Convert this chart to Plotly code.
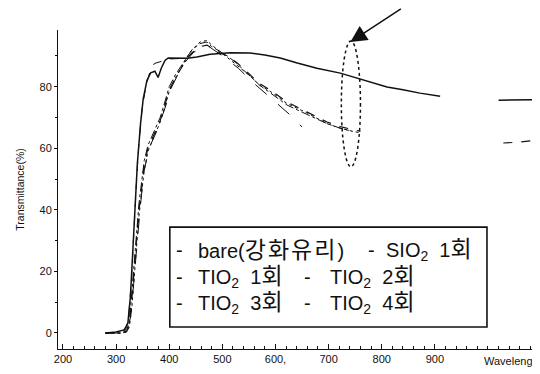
import plotly.graph_objects as go

# ---- data ----
series_names = ["bare(강화유리)", "SIO<sub>2</sub> 1회", "TIO<sub>2</sub> 1회",
                "TIO<sub>2</sub> 2회", "TIO<sub>2</sub> 3회", "TIO<sub>2</sub> 4회"]

wl_bare = [280, 300, 315, 322, 327, 331, 335, 340, 346, 351, 358, 365, 373, 379, 385, 392,
           398, 420, 434, 452, 477, 515, 552, 580, 609, 641, 678, 722, 765, 810, 840, 872,
           910, 960, 1020, 1095]
t_bare = [0, 0.3, 1, 3, 12, 25, 40, 55, 68, 76, 82, 84.5, 85, 83, 86, 88.5,
          89.3, 89.2, 89.2, 89.6, 90.5, 91, 90.9, 90.3, 89.3, 87.7, 86, 84.4, 82.1, 79.9, 79, 77.9,
          76.9, None, 75.6, 75.8]

wl_sio2 = [280, 300, 318, 324, 329, 333, 338, 343, 349, 356, 364, 372, 380, 390, 400, 430]
t_sio2 = [0, 0.2, 1, 6, 18, 32, 48, 62, 73, 80, 85, 87.5, 88, 88.5, 89, 89.2]

wl_tio2 = [280, 310, 320, 325, 330, 334, 338, 343, 348, 353, 360, 368, 376, 383, 390, 400,
           412, 423, 435, 443, 458, 471, 480, 495, 509, 528, 539, 552, 570, 590, 622, 659,
           697, 722, 745, 760, 900, 1029, 1060, 1093]
t_tio2_1 = [0, 0, 0.5, 3, 12, 20, 30, 40, 47, 55, 60, 63, 66, 69, 73, 79,
            83, 86, 89.5, 91, 93, 93.5, 92.5, 91, 90, 87.7, 86, 84, 81, 78.9, 75, 71.8,
            68.5, 67, 66, 65.5, None, 61.7, 62, 62.7]
t_tio2_2 = [0, 0, 0.3, 2, 9, 17, 27, 38, 46, 53, 59, 62.5, 65.5, 68.5, 72.5, 78.5,
            83, 86.5, 90, 92, 94.5, 95, 93.5, 91.5, 89.5, 87, 85.5, 83.5, 80.5, 78.5, 74.5, 71.5,
            68, 66.5, 65.5, 65, None, None, None, None]
t_tio2_3 = [0, 0, 0.8, 4, 14, 23, 33, 42, 49, 56, 61, 64, 67, 70, 74, 80,
            84, 87, 90, 92, 94, 94.5, 93, 91.5, 90, 87.5, 85.5, 83.5, 80.5, 78, 74, 71,
            68, 66.5, 65.5, None, None, None, None, None]

wl_tio2_4 = [280, 310, 322, 328, 333, 338, 345, 352, 362, 375, 390, 405, 425, 445, 462, 475,
             500, 530, 560, 600, 633, 650]
t_tio2_4 = [0, 0, 1, 6, 16, 27, 40, 52, 60, 65, 72, 80, 87, 91, 93, 93,
            90, 86, 81, 75, 70, 66.9]

x_tickvals = [200, 300, 400, 500, 600, 700, 800, 900]
x_ticktext = ["200", "300", "400", "500", "600,", "700", "800", "900"]
y_tickvals = [0, 20, 40, 60, 80]

# ---- figure ----
fig = go.Figure()
ink = "#111111"
fig.add_trace(go.Scatter(x=wl_bare, y=t_bare, mode="lines", name=series_names[0],
                         line=dict(color=ink, width=1.5)))
fig.add_trace(go.Scatter(x=wl_sio2, y=t_sio2, mode="lines", name=series_names[1],
                         line=dict(color=ink, width=1.0, dash="dash")))
fig.add_trace(go.Scatter(x=wl_tio2, y=t_tio2_1, mode="lines", name=series_names[2],
                         line=dict(color=ink, width=1.2, dash="dash")))
fig.add_trace(go.Scatter(x=wl_tio2, y=t_tio2_2, mode="lines", name=series_names[3],
                         line=dict(color=ink, width=1.0, dash="dot")))
fig.add_trace(go.Scatter(x=wl_tio2, y=t_tio2_3, mode="lines", name=series_names[4],
                         line=dict(color=ink, width=1.0, dash="dashdot")))
fig.add_trace(go.Scatter(x=wl_tio2_4, y=t_tio2_4, mode="lines", name=series_names[5],
                         line=dict(color=ink, width=1.0, dash="longdash")))

base_font = "Liberation Sans, Arial, Noto Sans CJK KR, sans-serif"

# page body has an 8px margin, so the figure is 8px smaller and margins compensate
fig.update_layout(
    width=532, height=366,
    margin=dict(l=50, r=0, t=22, b=25, autoexpand=False),
    paper_bgcolor="white", plot_bgcolor="white",
    showlegend=False,
    font=dict(family=base_font, color=ink),
    xaxis=dict(range=[190.6, 1098], showgrid=False, zeroline=False, automargin=False,
               showline=True, linecolor=ink, linewidth=1,
               tickmode="array", tickvals=x_tickvals, ticktext=x_ticktext,
               ticks="inside", ticklen=5, tickcolor=ink,
               minor=dict(dtick=20, ticks="inside", ticklen=3, tickcolor=ink),
               tickfont=dict(size=11, color=ink)),
    yaxis=dict(range=[-5.2, 98.4], showgrid=False, zeroline=False, automargin=False,
               showline=True, linecolor=ink, linewidth=1,
               tickmode="array", tickvals=y_tickvals,
               ticks="outside", ticklen=3, tickcolor=ink,
               minor=dict(dtick=10, ticks="outside", ticklen=2, tickcolor=ink),
               tickfont=dict(size=11, color=ink),
               title=dict(text="Transmittance(%)", font=dict(size=10.5, color=ink), standoff=12)),
)

# x axis title, partly cut off at the right edge like the reference
fig.add_annotation(xref="paper", yref="paper", x=(482 - 58) / 482, y=-0.012,
                   xanchor="left", yanchor="top", showarrow=False,
                   text="Wavelength(nm)", font=dict(size=11, color=ink))

# legend box drawn as a rectangle with text entries
fig.add_shape(type="rect", xref="paper", yref="paper",
              x0=0.232, x1=0.890, y0=0.069, y1=0.382,
              line=dict(color=ink, width=1.6), fillcolor="white", layer="above")


def wide_hangul(s):
    s = s.replace(" ", "&nbsp;&nbsp;", 1)
    out = []
    for ch in s:
        if "\uac00" <= ch <= "\ud7a3":
            out.append('<span style="font-size:23px;letter-spacing:2px">' + ch + "</span>")
        else:
            out.append(ch)
    return "".join(out)


rows_y = [0.310, 0.226, 0.144]
entries = [
    (0.253, 0.274, rows_y[0], series_names[0]),
    (0.650, 0.664, rows_y[0], series_names[1]),
    (0.253, 0.274, rows_y[1], series_names[2]),
    (0.517, 0.548, rows_y[1], series_names[3]),
    (0.253, 0.274, rows_y[2], series_names[4]),
    (0.517, 0.548, rows_y[2], series_names[5]),
]
for dx, tx, yy, name in entries:
    fig.add_annotation(xref="paper", yref="paper", x=dx, y=yy, xanchor="center", yanchor="middle",
                       showarrow=False, text="-", font=dict(size=20, color=ink))
    fig.add_annotation(xref="paper", yref="paper", x=tx + 0.012, y=yy, xanchor="left", yanchor="middle",
                       showarrow=False, text=wide_hangul(name),
                       font=dict(size=20, color=ink))

# dotted ellipse and arrow
fig.add_shape(type="circle", xref="x", yref="y", x0=724, x1=760, y0=54, y1=94.8,
              line=dict(color=ink, width=1.5, dash="dot"))
fig.add_annotation(x=741, y=94.5, xref="x", yref="y", ax=52, ay=-46,
                   showarrow=True, arrowhead=2, arrowsize=2.2, arrowwidth=1.5,
                   arrowcolor=ink, text="")

fig.write_html("out.html")
